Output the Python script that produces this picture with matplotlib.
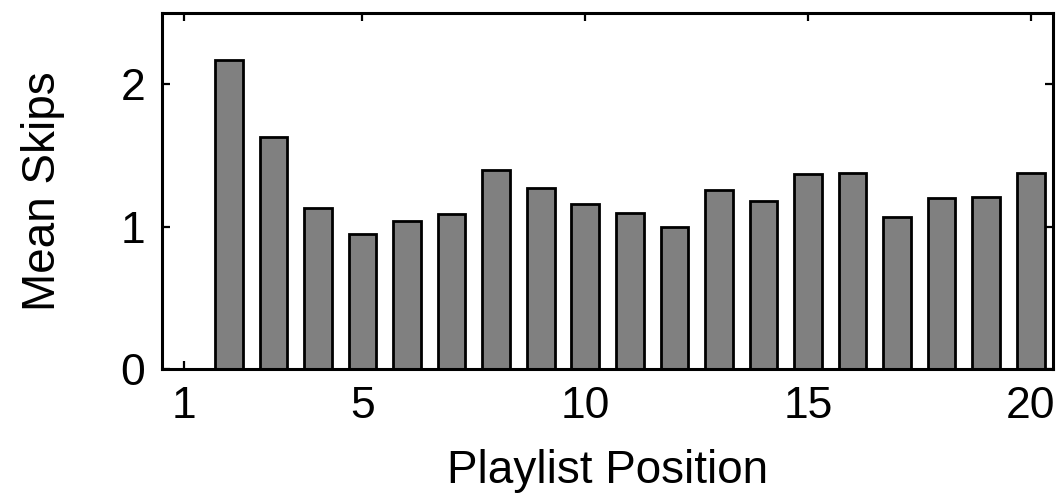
import matplotlib
matplotlib.use("Agg")
import matplotlib.pyplot as plt

# Mean number of skips at each playlist position (position 1 has no bar)
positions = list(range(2, 21))
mean_skips = [2.17, 1.63, 1.13, 0.95, 1.04, 1.09, 1.40, 1.27, 1.16, 1.10,
              1.00, 1.26, 1.18, 1.37, 1.38, 1.07, 1.20, 1.21, 1.38]
x_ticks = [1, 5, 10, 15, 20]
y_ticks = [0, 1, 2]

plt.rcParams["font.family"] = ["Liberation Sans", "DejaVu Sans"]

fig = plt.figure(figsize=(10.61, 4.97), dpi=100)
ax = fig.add_axes([0.1527, 0.2575, 0.8398, 0.7157])

ax.bar(positions, mean_skips, width=0.62, color="#808080",
       edgecolor="black", linewidth=2.0, zorder=2)

ax.set_xlim(0.5, 20.5)
ax.set_ylim(0, 2.5)
ax.set_xticks(x_ticks)
ax.set_yticks(y_ticks)

for s in ax.spines.values():
    s.set_linewidth(2.2)
    s.set_zorder(3)

ax.tick_params(direction="in", length=6, width=1.6, labelsize=32,
               top=True, right=True)
ax.tick_params(axis="x", pad=12)
ax.tick_params(axis="y", pad=12)

ax.set_xlabel("Playlist Position", fontsize=33, labelpad=16)
ax.set_ylabel("Mean Skips", fontsize=33, labelpad=40)

fig.savefig("out.png", dpi=100)
